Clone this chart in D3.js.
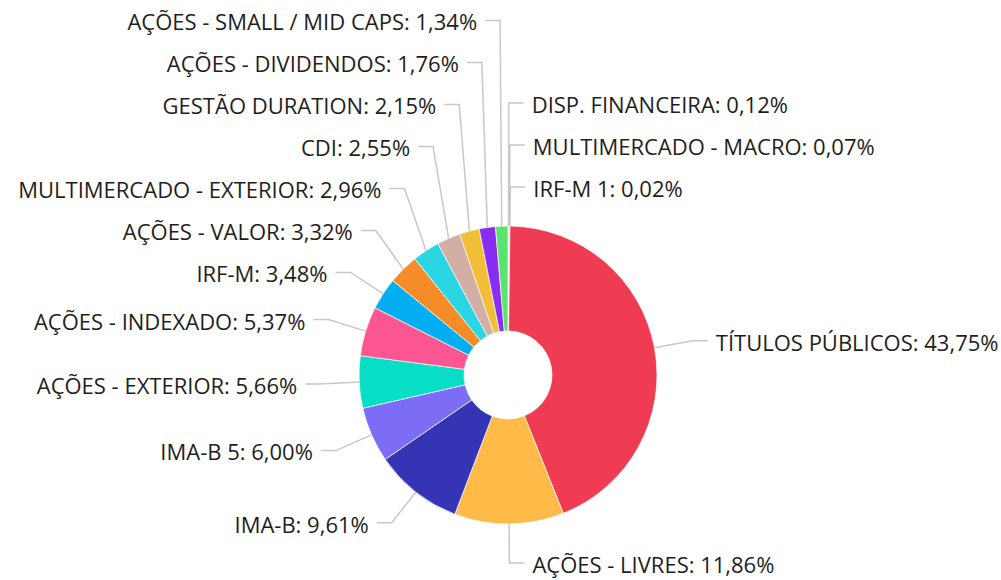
<!DOCTYPE html>
<html>
<head>
<meta charset="utf-8">
<script src="https://cdn.jsdelivr.net/npm/d3@7/dist/d3.min.js"></script>
<style>
  html, body { margin: 0; padding: 0; background: #fff; }
  #chart { width: 1001px; height: 580px; }
  .pie-label { font-family: "Open Sans", sans-serif; font-size: 22px; fill: #1e1e1e; }
</style>
</head>
<body>
<div id="chart"></div>
<script>
// fatias no sentido horário a partir do topo
const categories = [
  "DISP. FINANCEIRA",
  "MULTIMERCADO - MACRO",
  "IRF-M 1",
  "TÍTULOS PÚBLICOS",
  "AÇÕES - LIVRES",
  "IMA-B",
  "IMA-B 5",
  "AÇÕES - EXTERIOR",
  "AÇÕES - INDEXADO",
  "IRF-M",
  "AÇÕES - VALOR",
  "MULTIMERCADO - EXTERIOR",
  "CDI",
  "GESTÃO DURATION",
  "AÇÕES - DIVIDENDOS",
  "AÇÕES - SMALL / MID CAPS"
];
const values = [0.12, 0.07, 0.02, 43.75, 11.86, 9.61, 6.00, 5.66, 5.37, 3.48, 3.32, 2.96, 2.55, 2.15, 1.76, 1.34];
const colors = [
  "#a0a0a0", "#8c8c8c", "#b4b4b4",
  "#ef3c53", "#ffba47", "#3434b4", "#7d6cf6", "#07dec5", "#fb5691",
  "#04aef0", "#f68c28", "#2ad6e4", "#d3aea5", "#f2be37", "#8b2cf2", "#5ce36f"
];

const data = categories.map((c, i) => ({ name: c, value: values[i], color: colors[i] }));

renderChart(data);

function renderChart(data) {
  const width = 1001, height = 580;
  const cx = 508, cy = 375;
  const outerR = 149, innerR = 44;
  const len1 = 39, len2 = 15, textGap = 8, labelH = 42;
  const R = outerR + len1;

  const svg = d3.select("#chart")
    .append("svg")
    .attr("width", width)
    .attr("height", height);

  const g = svg.append("g").attr("transform", `translate(${cx},${cy})`);

  const pie = d3.pie().sort(null).value(d => d.value);
  const arcs = pie(data);
  const arc = d3.arc().innerRadius(innerR).outerRadius(outerR);

  g.append("g")
    .selectAll("path")
    .data(arcs)
    .enter()
    .append("path")
    .attr("d", arc)
    .attr("fill", d => d.data.color)
    .attr("stroke", "#fff")
    .attr("stroke-width", 0.7);

  // posição dos rótulos (linha radial + trecho horizontal)
  const labels = arcs.map(d => {
    const mid = (d.startAngle + d.endAngle) / 2;
    const s = Math.sin(mid), c = -Math.cos(mid);
    return {
      d,
      dir: s < 0 ? -1 : 1,
      ex: outerR * s, ey: outerR * c,
      bx: R * s, by: R * c,
      idealY: R * c
    };
  });

  // empurra para cima os rótulos que se sobrepõem
  [-1, 1].forEach(dir => {
    const side = labels.filter(l => l.dir === dir).sort((a, b) => a.idealY - b.idealY);
    for (let i = side.length - 2; i >= 0; i--) {
      side[i].by = Math.min(side[i].by, side[i + 1].by - labelH);
    }
    const minY = 16 - cy;
    if (side.length && side[0].by < minY) {
      side[0].by = minY;
      for (let i = 1; i < side.length; i++) {
        side[i].by = Math.max(side[i].by, side[i - 1].by + labelH);
      }
    }
  });

  const fmt = v => d3.format(".2f")(v).replace(".", ",") + "%";

  g.append("g")
    .selectAll("polyline")
    .data(labels)
    .enter()
    .append("polyline")
    .attr("points", l => [
      [l.ex, l.ey],
      [l.bx, l.by],
      [l.bx + l.dir * len2, l.by]
    ].map(p => p.join(",")).join(" "))
    .attr("fill", "none")
    .attr("stroke", "#c8c8c8")
    .attr("stroke-width", 1.5);

  g.append("g")
    .selectAll("text")
    .data(labels)
    .enter()
    .append("text")
    .attr("class", "pie-label")
    .attr("x", l => l.bx + l.dir * (len2 + textGap))
    .attr("y", l => l.by)
    .attr("dy", "0.45em")
    .attr("text-anchor", l => l.dir < 0 ? "end" : "start")
    .text(l => `${l.d.data.name}: ${fmt(l.d.data.value)}`);
}
</script>
</body>
</html>
